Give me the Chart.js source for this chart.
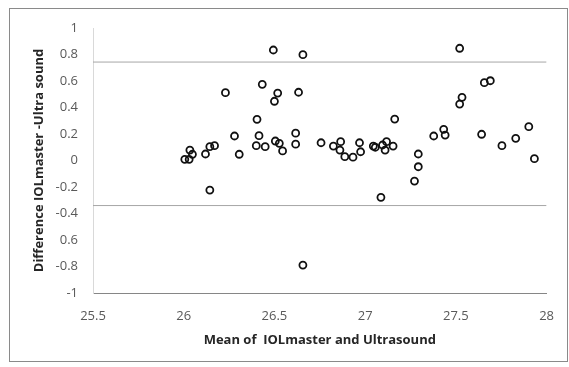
<!DOCTYPE html>
<html>
<head>
<meta charset="utf-8">
<script src="https://cdn.jsdelivr.net/npm/chart.js@4.4.1/dist/chart.umd.min.js"></script>
<style>
  html, body { margin: 0; padding: 0; background: #fff; }
  #wrap { width: 569px; height: 367px; }
</style>
</head>
<body>
<div id="wrap"><canvas id="chart" width="569" height="367"></canvas></div>
<script>
// Bland-Altman points: mean of both methods (x) and their difference (y)
const meanValues = [
  26.006, 26.030, 26.034, 26.048, 26.120, 26.144, 26.170, 26.144, 26.230, 26.280,
  26.306, 26.404, 26.400, 26.415, 26.433, 26.449, 26.494, 26.500, 26.505, 26.527,
  26.545, 26.518, 26.617, 26.617, 26.633, 26.657, 26.657, 26.757, 26.825, 26.865,
  26.861, 26.888, 26.933, 26.969, 26.975, 27.045, 27.056, 27.096, 27.118, 27.110,
  27.154, 27.163, 27.087, 27.272, 27.293, 27.293, 27.378, 27.433, 27.441, 27.521,
  27.534, 27.521, 27.657, 27.690, 27.642, 27.754, 27.830, 27.902, 27.933
];
const diffValues = [
  0.009, 0.009, 0.079, 0.047, 0.049, 0.104, 0.112, -0.223, 0.512, 0.185,
  0.047, 0.311, 0.112, 0.187, 0.575, 0.104, 0.834, 0.447, 0.147, 0.130,
  0.072, 0.509, 0.206, 0.123, 0.515, 0.799, -0.789, 0.134, 0.109, 0.142,
  0.079, 0.029, 0.025, 0.134, 0.066, 0.109, 0.100, 0.117, 0.142, 0.079,
  0.109, 0.313, -0.278, -0.155, 0.049, -0.047, 0.185, 0.235, 0.192, 0.847,
  0.477, 0.426, 0.587, 0.602, 0.198, 0.112, 0.167, 0.255, 0.014
];

// limits of agreement
const upperLimit = 0.743;
const lowerLimit = -0.34;
const xRange = [25.5, 28];

// tick labels as printed on the original (note the missing minus on -0.6)
const yTickLabels = ['-1', '-0.8', '0.6', '-0.4', '-0.2', '0', '0.2', '0.4', '0.6', '0.8', '1'];

const points = meanValues.map((x, i) => ({ x, y: diffValues[i] }));

const frame = {
  id: 'frame',
  beforeDraw(chart) {
    const ctx = chart.ctx;
    ctx.save();
    ctx.fillStyle = '#fff';
    ctx.fillRect(0, 0, chart.width, chart.height);
    ctx.strokeStyle = '#8a8a8a';
    ctx.lineWidth = 1;
    ctx.strokeRect(9.5, 8.5, 558, 353);
    ctx.restore();
  }
};

const tickFont = { family: 'Open Sans', size: 13 };
const titleFont = { family: 'Open Sans', size: 13, weight: 'bold' };

new Chart(document.getElementById('chart'), {
  type: 'scatter',
  data: {
    datasets: [
      {
        data: points,
        pointStyle: 'circle',
        pointRadius: 3.5,
        pointBorderWidth: 1.8,
        borderColor: '#111',
        backgroundColor: 'rgba(0,0,0,0)',
      },
      {
        type: 'line',
        data: [{ x: xRange[0], y: upperLimit }, { x: xRange[1], y: upperLimit }],
        borderColor: '#a6a6a6',
        borderWidth: 1,
        pointRadius: 0,
      },
      {
        type: 'line',
        data: [{ x: xRange[0], y: lowerLimit }, { x: xRange[1], y: lowerLimit }],
        borderColor: '#a6a6a6',
        borderWidth: 1,
        pointRadius: 0,
      }
    ]
  },
  options: {
    responsive: false,
    animation: false,
    layout: { padding: { left: 9, top: 28, right: 16, bottom: 0 } },
    plugins: {
      legend: { display: false },
      tooltip: { enabled: false }
    },
    scales: {
      x: {
        type: 'linear',
        min: xRange[0],
        max: xRange[1],
        afterFit: (s) => { s.height = 74; },
        grid: { display: false, drawTicks: false },
        border: { display: true, color: '#868686', width: 1 },
        ticks: {
          stepSize: 0.5,
          padding: 15,
          color: '#595959',
          font: tickFont,
          callback: (v) => String(v)
        },
        title: {
          display: true,
          text: 'Mean of  IOLmaster and Ultrasound',
          color: '#262626',
          font: titleFont,
          padding: { top: 0, bottom: 19 }
        }
      },
      y: {
        min: -1,
        max: 1,
        afterFit: (s) => { s.width = 84; },
        grid: { display: false, drawTicks: false },
        border: { display: true, color: '#d9d9d9', width: 1 },
        ticks: {
          stepSize: 0.2,
          padding: 15,
          color: '#595959',
          font: tickFont,
          callback: (v, i) => yTickLabels[i]
        },
        title: {
          display: true,
          text: 'Difference IOLmaster -Ultra sound',
          color: '#262626',
          font: titleFont,
          padding: { top: 22, bottom: 0 }
        }
      }
    }
  },
  plugins: [frame]
});
</script>
</body>
</html>
